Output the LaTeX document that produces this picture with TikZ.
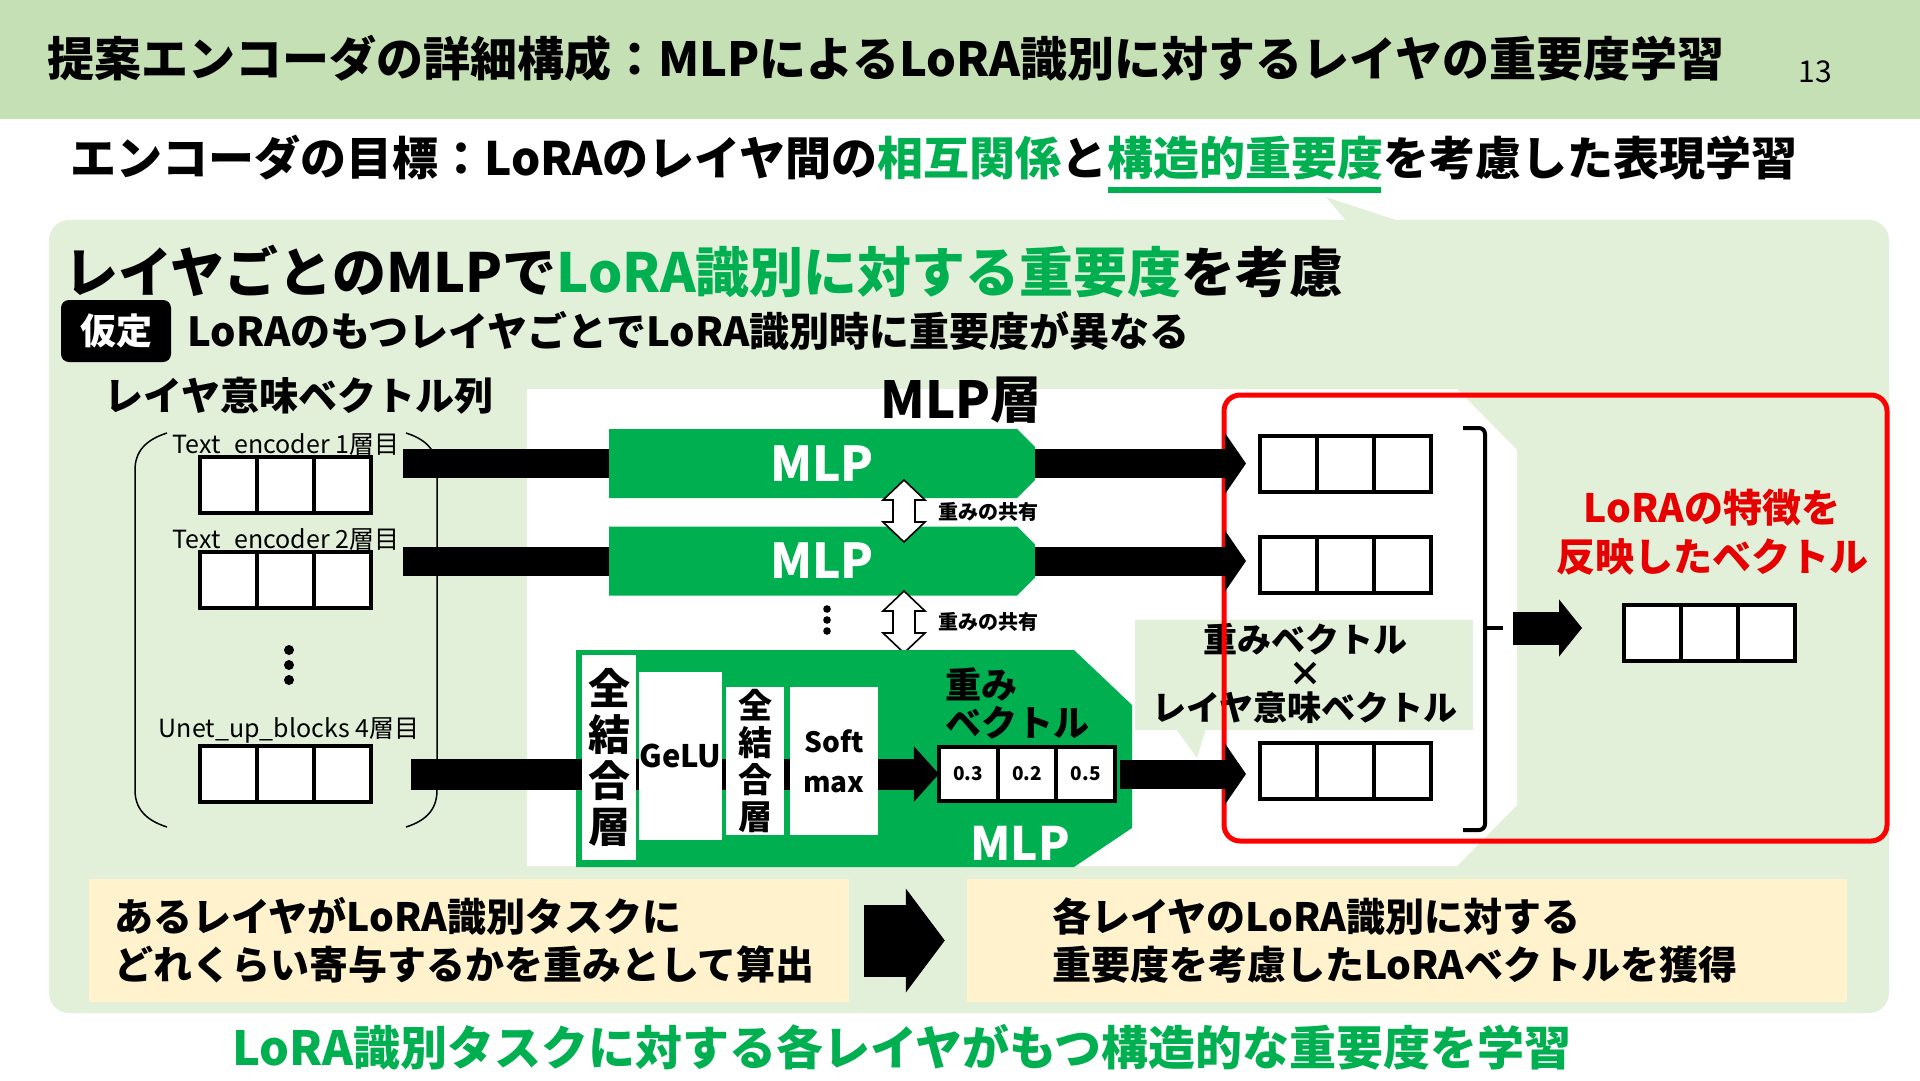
\documentclass[tikz,border=0pt]{standalone}
\usepackage{fontspec}
\setmainfont{Noto Sans CJK JP}
\usetikzlibrary{positioning, calc, arrows.meta}
\definecolor{hdrgreen}{HTML}{C5E0B4}
\definecolor{panel}{HTML}{E2F0D9}
\definecolor{mlpgreen}{HTML}{00B050}
\definecolor{tgreen}{HTML}{00B050}
\definecolor{featred}{HTML}{FF0000}
\definecolor{feattext}{HTML}{E60000}
\definecolor{beige}{HTML}{FFF2CC}

\begin{document}
\begin{tikzpicture}[x=1pt, y=-1pt,
	cell/.style={draw, line width=4pt, fill=white, minimum width=57pt, minimum height=56pt, inner sep=0pt, outer sep=0pt},
	wcell/.style={cell, minimum width=58.7pt, minimum height=54pt, font=\fontsize{19pt}{22pt}\selectfont\bfseries},
	bar/.style={line width=29pt},
	tip/.style={-{Triangle[length=21pt, width=60pt]}},
	mlpname/.style={minimum width=426pt, minimum height=68pt, inner sep=0pt, text=white, font=\fontsize{48pt}{56pt}\selectfont\bfseries},
	layerbox/.style={fill=white, inner sep=0pt, align=center},
	hollow/.style={draw, fill=white, line width=1.6pt, line join=miter},
	lab/.style={inner sep=0pt, font=\fontsize{25pt}{29pt}\selectfont},
	note/.style={fill=beige, minimum height=123pt, text width=710pt, align=left, inner sep=0pt, font=\fontsize{39pt}{48pt}\selectfont\bfseries}]
	\useasboundingbox (0,0) rectangle (1920,1080);

	% header
	\fill[hdrgreen] (0,0) rectangle (1920,119);
	\node[anchor=west, inner sep=0pt, font=\fontsize{47pt}{56pt}\selectfont\bfseries] (title) at (47,58) {提案エンコーダの詳細構成：MLPによるLoRA識別に対するレイヤの重要度学習};
	\node[inner sep=0pt, font=\fontsize{30pt}{36pt}\selectfont] (page) at (1815,72) {13};

	\node[anchor=west, inner sep=0pt, font=\fontsize{46pt}{55pt}\selectfont\bfseries] (goal) at (70,158) {エンコーダの目標：LoRAのレイヤ間の\textcolor{tgreen}{相互関係}と\textcolor{tgreen}{構造的重要度}を考慮した表現学習};
	\draw[tgreen, line width=6pt] (1108,190) -- (1381,190);

	% panel
	\fill[panel, rounded corners=20pt] (49,220) rectangle (1889,1013);
	\fill[panel] (1326,197) -- (1347,222) -- (1402,222) -- cycle;

	\node[anchor=west, inner sep=0pt, font=\fontsize{54pt}{65pt}\selectfont\bfseries] (head) at (64,271) {レイヤごとのMLPで\textcolor{tgreen}{LoRA識別に対する重要度}を考慮};
	\node[fill=black, rounded corners=8pt, minimum width=110pt, minimum height=62pt, inner sep=0pt, text=white, font=\fontsize{36pt}{43pt}\selectfont\bfseries] (assume) at (116,331) {仮定};
	\node[right=16pt of assume, inner sep=0pt, font=\fontsize{40pt}{48pt}\selectfont\bfseries] (assumetext) {LoRAのもつレイヤごとでLoRA識別時に重要度が異なる};
	\node[anchor=west, inner sep=0pt, font=\fontsize{39pt}{47pt}\selectfont\bfseries] (seqtitle) at (104,396) {レイヤ意味ベクトル列};

	% MLP layer area
	\fill[white] (527,389) -- (1457,389) -- (1517,450) -- (1517,805) -- (1457,866) -- (527,866) -- cycle;
	\node[inner sep=0pt, font=\fontsize{51pt}{61pt}\selectfont\bfseries] (mlptitle) at (961,400) {MLP層};

	% layer vectors
	\draw[line width=1.5pt] (167,433) .. controls (145,440) and (135,452) .. (135,470) -- (135,790) .. controls (135,808) and (145,820) .. (167,827);
	\draw[line width=1.5pt] (406,433) .. controls (428,440) and (437,452) .. (437,470) -- (437,790) .. controls (437,808) and (428,820) .. (406,827);
	\node[lab] (lab1) at (286,445) {Text\_encoder 1層目};
	\node[lab] (lab2) at (286,540) {Text\_encoder 2層目};
	\node[lab] (lab3) at (289,730) {Unet\_up\_blocks 4層目};
	\foreach \n/\y in {1/485, 2/580, 3/774} {
		\node[cell] (v\n a) at (228.5,\y) {};
		\node[cell, right=0pt of v\n a] (v\n b) {};
		\node[cell, right=0pt of v\n b] (v\n c) {};
	}
	\foreach \d in {650,665,680} \fill (289,\d) circle (5);

	% shared MLPs
	\foreach \n/\y in {1/463.5, 2/561} {
		\fill[mlpgreen] (609,\y-34.5) -- (1017,\y-34.5) -- (1035,\y-16.5) -- (1035,\y+16.5) -- (1017,\y+34.5) -- (609,\y+34.5) -- cycle;
		\node[mlpname] (mlp\n) at (822,\y) {MLP};
		\draw[bar, shorten <=32pt] (mlp\n.west -| v\n c.east) -- (mlp\n.west);
	}
	\foreach \y in {511,622}
		\draw[hollow] (904,\y-31) -- ++(21,20) -- ++(-10,0) -- ++(0,22) -- ++(10,0) -- ++(-21,20) -- ++(-21,-20) -- ++(10,0) -- ++(0,-22) -- ++(-10,0) -- cycle;
	\node[anchor=west, inner sep=0pt, font=\fontsize{20pt}{24pt}\selectfont\bfseries] (share1) at (938,512) {重みの共有};
	\node[anchor=west, inner sep=0pt, font=\fontsize{20pt}{24pt}\selectfont\bfseries] (share2) at (938,622) {重みの共有};
	\foreach \d in {609,620,631} \fill (827,\d) circle (3.8);

	% detailed MLP
	\fill[mlpgreen] (576,650) -- (1074,650) -- (1132,705) -- (1132,828) -- (1074,867) -- (576,867) -- cycle;
	\node[wcell] (wa) at (968.3,774) {0.3};
	\node[wcell, right=0pt of wa] (wb) {0.2};
	\node[wcell, right=0pt of wb] (wc) {0.5};
	\node[anchor=west, align=left, inner sep=0pt, font=\fontsize{36pt}{38pt}\selectfont\bfseries] (wtitle) at (945,703) {重み\\ベクトル};
	\node[inner sep=0pt, text=white, font=\fontsize{46pt}{55pt}\selectfont\bfseries] (mlp3) at (1020,843) {MLP};
	\draw[bar, line width=31pt, -{Triangle[length=25pt, width=54pt]}, shorten <=40pt] (v3c.east) -- (wa.west);
	\node[layerbox, minimum width=54pt, minimum height=205pt, font=\fontsize{42pt}{46pt}\selectfont\bfseries] (fc1) at (609,757.5) {全\\結\\合\\層};
	\node[layerbox, minimum width=81pt, minimum height=168pt, font=\fontsize{31pt}{37pt}\selectfont\bfseries] (gelu) at (680.5,756) {GeLU};
	\node[layerbox, minimum width=58pt, minimum height=148pt, font=\fontsize{34pt}{37pt}\selectfont\bfseries] (fc2) at (755,761) {全\\結\\合\\層};
	\node[layerbox, minimum width=88pt, minimum height=148pt, font=\fontsize{28pt}{40pt}\selectfont\bfseries] (softmax) at (834,761) {Soft\\max};

	% callout
	\fill[panel] (1135,620) rectangle (1473,730);
	\fill[panel] (1176,729) -- (1197,758) -- (1206,729) -- cycle;
	\node[align=center, inner sep=0pt, font=\fontsize{34pt}{34pt}\selectfont\bfseries] (wxl) at (1305,673) {重みベクトル\\×\\レイヤ意味ベクトル};

	% weighted vectors
	\foreach \n/\y in {1/463.5, 2/565, 3/771} {
		\node[cell] (o\n a) at (1288.5,\y) {};
		\node[cell, right=0pt of o\n a] (o\n b) {};
		\node[cell, right=0pt of o\n b] (o\n c) {};
	}
	\draw[featred, line width=5pt, rounded corners=16pt] (1224,395) rectangle (1887,841);
	\draw[bar, tip, shorten >=14pt] (mlp1.east) -- (mlp1.east -| o1a.west);
	\draw[bar, tip, shorten >=14pt] (mlp2.east) -- (mlp2.east -| o2a.west);
	\draw[bar, tip, shorten <=5pt, shorten >=14pt] (wc.east) -- (wc.east -| o3a.west);

	\draw[line width=4pt, rounded corners=6pt] (1463,428) -| (1485,830) -- (1463,830);
	\coordinate (brk) at (1503,628);
	\draw[line width=4pt] (1485,628) -- (brk);
	\node[cell] (fa) at (1652.5,633) {};
	\node[cell, right=0pt of fa] (fb) {};
	\node[cell, right=0pt of fb] (fc) {};
	\draw[line width=33pt, -{Triangle[length=23pt, width=56pt]}, shorten <=10pt, shorten >=42pt] (brk) -- (brk -| fa.west);
	\node[text=feattext, align=center, inner sep=0pt, font=\fontsize{39pt}{49pt}\selectfont\bfseries] (feat) at (1712,532) {LoRAの特徴を\\反映したベクトル};

	% bottom notes
	\node[note, minimum width=760pt] (cause) at (469,940.5) {あるレイヤがLoRA識別タスクに\\どれくらい寄与するかを重みとして算出};
	\node[note, minimum width=880pt] (effect) at (1407,940.5) {各レイヤのLoRA識別に対する\\重要度を考慮したLoRAベクトルを獲得};
	\draw[line width=72pt, -{Triangle[length=39pt, width=102pt]}, shorten <=15pt, shorten >=22pt] (cause.east) -- (effect.west);

	\node[text=tgreen, inner sep=0pt, font=\fontsize{47pt}{56pt}\selectfont\bfseries] (summary) at (902,1047) {LoRA識別タスクに対する各レイヤがもつ構造的な重要度を学習};
\end{tikzpicture}
\end{document}
